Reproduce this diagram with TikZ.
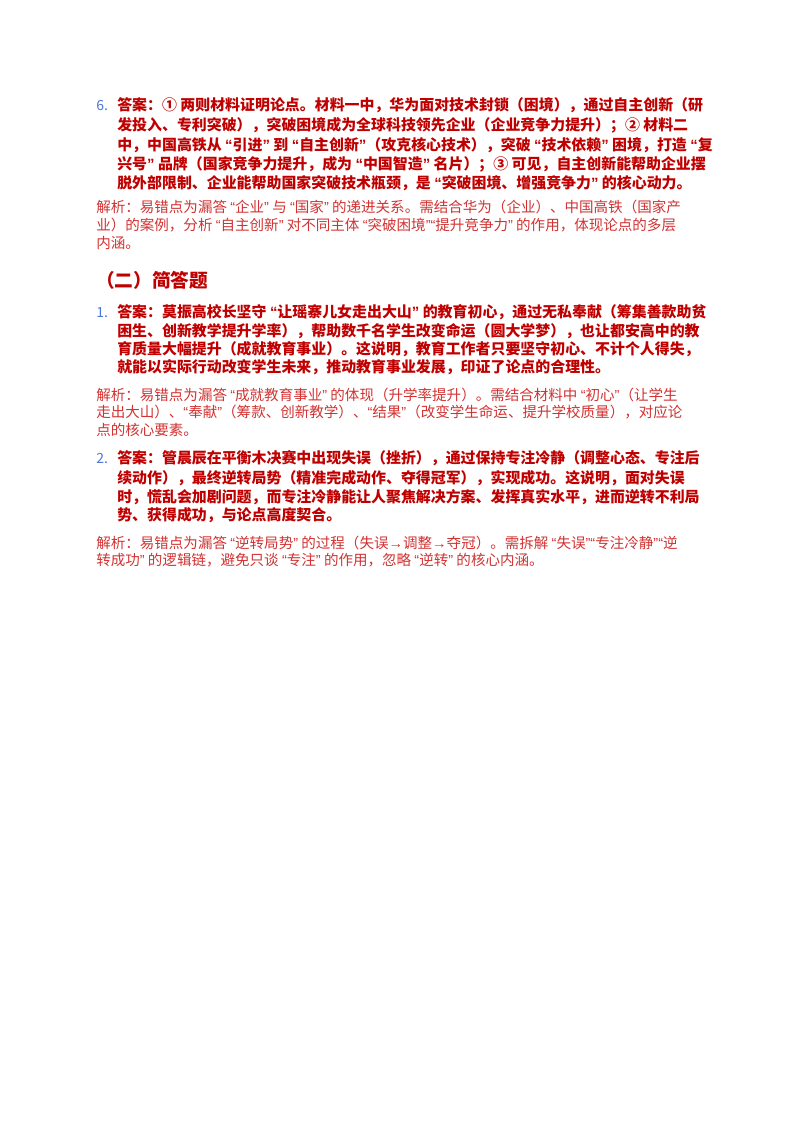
\documentclass[tikz,border=0pt]{standalone}
\usepackage{fontspec}
\setmainfont{Noto Sans CJK SC}
\newfontfamily\latq{Liberation Sans}
\newcommand{\myoq}{{\latq “}}
\newcommand{\mycq}{{\latq ”}}
\definecolor{ans}{HTML}{C00000}
\definecolor{ana}{HTML}{D23232}
\definecolor{num}{HTML}{4A78D8}
\tikzset{
 ansl/.style={anchor=base west,inner sep=0,text=ans,font=\fontsize{11.2}{13}\selectfont\bfseries},
 anal/.style={anchor=base west,inner sep=0,text=ana,font=\fontsize{10.9}{12}\selectfont},
 numl/.style={anchor=base west,inner sep=0,text=num,font=\fontsize{10.5}{12}\selectfont},
 head/.style={anchor=base west,inner sep=0,text=ans,font=\fontsize{14}{16}\selectfont\bfseries}}
\begin{document}
\begin{tikzpicture}[x=0.75pt,y=-0.75pt]
\useasboundingbox[fill=white] (0,0) rectangle (800,1132);
\node[numl] (n6) at (96,110) {6.};
\node[ansl] (a61) at (117,110) {答案：① 两则材料证明论点。材料一中，华为面对技术封锁（困境），通过自主创新（研};
\node[ansl] (a62) at (117,130) {发投入、专利突破），突破困境成为全球科技领先企业（企业竞争力提升）；② 材料二};
\node[ansl] (a63) at (117,150) {中，中国高铁从 \myoq 引进\mycq{} 到 \myoq 自主创新\mycq（攻克核心技术），突破 \myoq 技术依赖\mycq{} 困境，打造 \myoq 复};
\node[ansl] (a64) at (117,169) {兴号\mycq{} 品牌（国家竞争力提升，成为 \myoq 中国智造\mycq{} 名片）；③ 可见，自主创新能帮助企业摆};
\node[ansl] (a65) at (117,188) {脱外部限制、企业能帮助国家突破技术瓶颈，是 \myoq 突破困境、增强竞争力\mycq{} 的核心动力。};
\node[anal] (b61) at (96,212) {解析：易错点为漏答 \myoq 企业\mycq{} 与 \myoq 国家\mycq{} 的递进关系。需结合华为（企业）、中国高铁（国家产};
\node[anal] (b62) at (96,230) {业）的案例，分析 \myoq 自主创新\mycq{} 对不同主体 \myoq 突破困境\mycq\myoq 提升竞争力\mycq{} 的作用，体现论点的多层};
\node[anal] (b63) at (96,248) {内涵。};
\node[head] (h) at (96,287) {（二）简答题};
\node[numl] (n1) at (96,317) {1.};
\node[ansl] (a11) at (117,317) {答案：莫振高校长坚守 \myoq 让瑶寨儿女走出大山\mycq{} 的教育初心，通过无私奉献（筹集善款助贫};
\node[ansl] (a12) at (117,336) {困生、创新教学提升学率），帮助数千名学生改变命运（圆大学梦），也让都安高中的教};
\node[ansl] (a13) at (117,354) {育质量大幅提升（成就教育事业）。这说明，教育工作者只要坚守初心、不计个人得失，};
\node[ansl] (a14) at (117,372) {就能以实际行动改变学生未来，推动教育事业发展，印证了论点的合理性。};
\node[anal] (b11) at (96,400) {解析：易错点为漏答 \myoq 成就教育事业\mycq{} 的体现（升学率提升）。需结合材料中 \myoq 初心\mycq（让学生};
\node[anal] (b12) at (96,417) {走出大山）、\myoq 奉献\mycq（筹款、创新教学）、\myoq 结果\mycq（改变学生命运、提升学校质量），对应论};
\node[anal] (b13) at (96,435) {点的核心要素。};
\node[numl] (n2) at (96,463) {2.};
\node[ansl] (a21) at (117,463) {答案：管晨辰在平衡木决赛中出现失误（挫折），通过保持专注冷静（调整心态、专注后};
\node[ansl] (a22) at (117,483) {续动作），最终逆转局势（精准完成动作、夺得冠军），实现成功。这说明，面对失误};
\node[ansl] (a23) at (117,502) {时，慌乱会加剧问题，而专注冷静能让人聚焦解决方案、发挥真实水平，进而逆转不利局};
\node[ansl] (a24) at (117,520) {势、获得成功，与论点高度契合。};
\node[anal] (b21) at (96,548) {解析：易错点为漏答 \myoq 逆转局势\mycq{} 的过程（失误{\latq →}调整{\latq →}夺冠）。需拆解 \myoq 失误\mycq\myoq 专注冷静\mycq\myoq 逆};
\node[anal] (b22) at (96,565) {转成功\mycq{} 的逻辑链，避免只谈 \myoq 专注\mycq{} 的作用，忽略 \myoq 逆转\mycq{} 的核心内涵。};
\end{tikzpicture}
\end{document}
